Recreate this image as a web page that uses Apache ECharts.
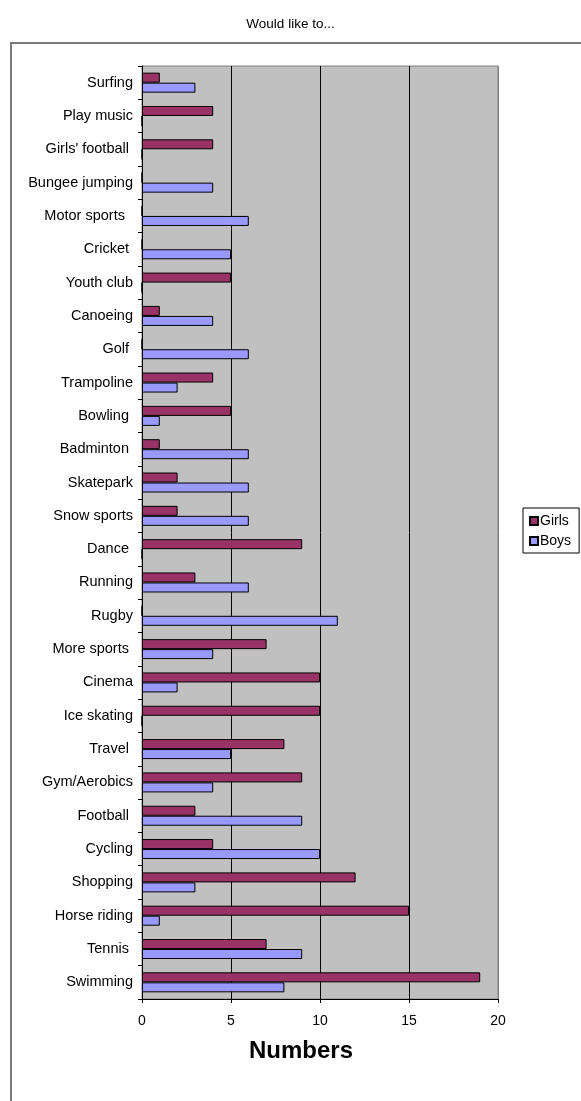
<!DOCTYPE html>
<html>
<head>
<meta charset="utf-8">
<style>
  html, body { margin: 0; padding: 0; background: #ffffff; }
  #chart { width: 581px; height: 1101px; }
</style>
<script src="https://cdn.jsdelivr.net/npm/echarts@6/dist/echarts.min.js"></script>
</head>
<body>
<div id="chart"></div>
<script>
// Activities, listed from the bottom of the chart to the top
const categories = [
  'Swimming', 'Tennis ', 'Horse riding', 'Shopping', 'Cycling', 'Football ',
  'Gym/Aerobics', 'Travel ', 'Ice skating', 'Cinema', 'More sports ', 'Rugby',
  'Running', 'Dance ', 'Snow sports', 'Skatepark', 'Badminton ', 'Bowling ',
  'Trampoline', 'Golf ', 'Canoeing', 'Youth club', 'Cricket ', 'Motor sports  ',
  'Bungee jumping', "Girls' football ", 'Play music', 'Surfing'
];
const girls = [19, 7, 15, 12, 4, 3, 9, 8, 10, 10, 7, 0, 3, 9, 2, 2, 1, 5, 4, 0, 1, 5, 0, 0, 0, 4, 4, 1];
const boys  = [8, 9, 1, 3, 10, 9, 4, 5, 0, 2, 4, 11, 6, 0, 6, 6, 6, 1, 2, 6, 4, 0, 5, 6, 4, 0, 0, 3];
const xTicks = [0, 5, 10, 15, 20];

const FONT = '"Liberation Sans", Arial, sans-serif';

const chart = echarts.init(document.getElementById('chart'), null, { renderer: 'canvas' });
chart.setOption({
  animation: false,
  backgroundColor: '#ffffff',
  textStyle: { fontFamily: FONT },
  title: {
    text: 'Would like to...',
    left: 'center',
    top: 12,
    textStyle: { fontFamily: FONT, fontSize: 13.5, fontWeight: 'normal', color: '#000' }
  },
  graphic: [{
    type: 'rect',
    shape: { x: 11, y: 43, width: 700, height: 1200 },
    style: { fill: 'none', stroke: '#7a7a7a', lineWidth: 2 },
    z: 0,
    silent: true
  }],
  legend: {
    data: ['Girls', 'Boys'],
    orient: 'vertical',
    left: 523,
    top: 508,
    itemWidth: 8,
    itemHeight: 8,
    itemGap: 6,
    padding: [6, 8, 5, 6],
    icon: 'rect',
    borderColor: '#000',
    borderWidth: 1,
    backgroundColor: '#fff',
    textStyle: { fontFamily: FONT, fontSize: 14, color: '#000', padding: [0, 0, 0, -3] }
  },
  grid: {
    left: 142, right: 83, top: 66, bottom: 102,
    show: true,
    backgroundColor: '#C0C0C0',
    borderColor: '#808080',
    borderWidth: 1
  },
  xAxis: {
    type: 'value',
    min: xTicks[0],
    max: xTicks[xTicks.length - 1],
    interval: 5,
    name: 'Numbers',
    nameLocation: 'middle',
    nameGap: 40,
    nameTextStyle: {
      fontFamily: FONT, fontSize: 24, fontWeight: 'bold', color: '#000',
      padding: [0, 38, 0, 0]
    },
    axisLine: { show: true, lineStyle: { color: '#000', width: 1 } },
    axisTick: { show: true, length: 4, lineStyle: { color: '#000' } },
    axisLabel: { fontFamily: FONT, fontSize: 14, color: '#000', margin: 15 },
    splitLine: { show: true, lineStyle: { color: ['#000', '#000', '#000', '#000', '#808080'], width: 1 } }
  },
  yAxis: {
    type: 'category',
    data: categories,
    axisLine: { show: true, lineStyle: { color: '#000', width: 1 } },
    axisTick: { show: true, length: 4, lineStyle: { color: '#000' } },
    axisLabel: { fontFamily: FONT, fontSize: 14.5, color: '#000', margin: 9 },
    splitLine: { show: false }
  },
  series: [
    {
      name: 'Girls',
      type: 'bar',
      data: girls,
      barWidth: 10,
      barGap: '0%',
      itemStyle: { color: '#993366', borderColor: '#000', borderWidth: 1 }
    },
    {
      name: 'Boys',
      type: 'bar',
      data: boys,
      barWidth: 10,
      barGap: '0%',
      itemStyle: { color: '#9999FF', borderColor: '#000', borderWidth: 1 }
    }
  ]
});
</script>
</body>
</html>
